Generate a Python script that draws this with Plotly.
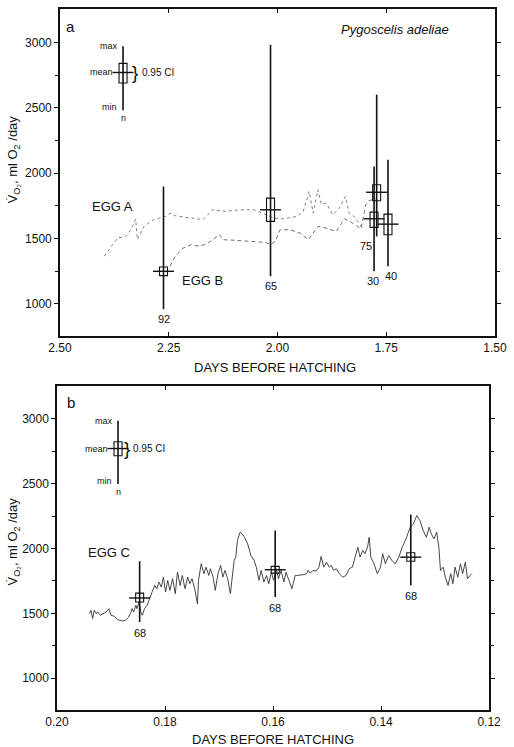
import plotly.graph_objects as go

# ---------------- data: panel a (Eggs A, B) ----------------
eggA_day = [2.398, 2.368, 2.349, 2.337, 2.326, 2.322, 2.307, 2.285, 2.258, 2.247, 2.235,
            2.171, 2.149, 2.118, 2.088, 2.054, 2.035, 2.009, 1.986, 1.956, 1.941, 1.927,
            1.918, 1.907, 1.899, 1.888, 1.873, 1.858, 1.844, 1.835, 1.824, 1.808, 1.805]
eggA_vo2 = [1363, 1502, 1515, 1566, 1647, 1490, 1592, 1643, 1668, 1693, 1673,
            1643, 1719, 1706, 1719, 1719, 1693, 1655, 1650, 1668, 1706, 1859,
            1693, 1872, 1760, 1770, 1681, 1731, 1821, 1693, 1668, 1592, 1579]

eggB_day = [2.247, 2.235, 2.217, 2.198, 2.179, 2.160, 2.133, 2.126, 2.096, 2.065, 2.028,
            2.016, 2.005, 1.994, 1.971, 1.948, 1.929, 1.907, 1.888, 1.865, 1.846, 1.827,
            1.808, 1.797, 1.790, 1.774]
eggB_vo2 = [1286, 1363, 1426, 1452, 1439, 1464, 1528, 1490, 1485, 1477, 1469,
            1452, 1477, 1566, 1566, 1540, 1490, 1592, 1579, 1553, 1650, 1617,
            1574, 1757, 1788, 1803]

# summary statistics, panel a
a_day = [2.262, 2.016, 1.772, 1.778, 1.746]
a_min = [958, 1210, 1515, 1248, 1286]
a_lo = [1215, 1630, 1788, 1584, 1528]
a_mean = [1248, 1719, 1853, 1650, 1609]
a_hi = [1281, 1808, 1910, 1701, 1686]
a_max = [1897, 2981, 2600, 2050, 2101]
a_n = ["92", "65", "75", "30", "40"]

# key (schematic) panel a
key_a = dict(day=2.355, min=2480, lo=2690, mean=2770, hi=2840, max=2970)

# ---------------- data: panel b (Egg C) ----------------
eggC_day = [0.1940, 0.1937, 0.1934, 0.1931, 0.1927, 0.1925, 0.1920, 0.1914, 0.1909, 0.1904,
            0.1900, 0.1894, 0.1888, 0.1879, 0.1873, 0.1868, 0.1864, 0.1861, 0.1858, 0.1854,
            0.1852, 0.1848, 0.1845, 0.1842, 0.1838, 0.1833, 0.1829, 0.1824, 0.1819, 0.1815,
            0.1811, 0.1807, 0.1803, 0.1799, 0.1795, 0.1791, 0.1786, 0.1781, 0.1777, 0.1772,
            0.1768, 0.1763, 0.1758, 0.1754, 0.1750, 0.1745, 0.1740, 0.1738, 0.1733, 0.1728,
            0.1724, 0.1719, 0.1716, 0.1711, 0.1707, 0.1702, 0.1697, 0.1693, 0.1689, 0.1684,
            0.1679, 0.1675, 0.1672, 0.1669, 0.1666, 0.1661, 0.1657, 0.1653, 0.1647, 0.1641,
            0.1635, 0.1631, 0.1626, 0.1622, 0.1617, 0.1612, 0.1608, 0.1603, 0.1599, 0.1594,
            0.1590, 0.1585, 0.1580, 0.1576, 0.1571, 0.1565, 0.1559, 0.1556, 0.1544, 0.1538,
            0.1535, 0.1531, 0.1526, 0.1520, 0.1515, 0.1511, 0.1506, 0.1501, 0.1496, 0.1492,
            0.1488, 0.1483, 0.1477, 0.1471, 0.1465, 0.1459, 0.1453, 0.1448, 0.1443, 0.1439,
            0.1434, 0.1430, 0.1425, 0.1422, 0.1419, 0.1413, 0.1407, 0.1401, 0.1397, 0.1392,
            0.1386, 0.1380, 0.1374, 0.1367, 0.1361, 0.1355, 0.1350, 0.1346, 0.1340, 0.1334,
            0.1328, 0.1322, 0.1316, 0.1311, 0.1307, 0.1302, 0.1297, 0.1293, 0.1290, 0.1285,
            0.1281, 0.1276, 0.1271, 0.1267, 0.1263, 0.1258, 0.1253, 0.1249, 0.1244, 0.1240,
            0.1235, 0.1232]
eggC_vo2 = [1498, 1523, 1459, 1523, 1498, 1510, 1485, 1498, 1510, 1536,
            1485, 1477, 1451, 1441, 1446, 1467, 1498, 1536, 1510, 1562,
            1536, 1587, 1510, 1485, 1536, 1562, 1613, 1664, 1715, 1690,
            1741, 1702, 1779, 1664, 1754, 1677, 1767, 1651, 1818, 1715,
            1792, 1690, 1779, 1728, 1767, 1690, 1574, 1754, 1882, 1805,
            1856, 1792, 1844, 1779, 1677, 1805, 1869, 1779, 1831, 1767,
            1651, 1805, 1908, 1933, 2062, 2126, 2113, 2087, 2036, 1946,
            1908, 1856, 1754, 1831, 1741, 1792, 1728, 1818, 1754, 1844,
            1767, 1831, 1741, 1818, 1754, 1690, 1792, 1792, 1798, 1805,
            1831, 1810, 1831, 1826, 1856, 1938, 1856, 1895, 1856, 1869,
            1831, 1844, 1805, 1779, 1792, 1844, 1856, 1933, 2010, 1933,
            1985, 1959, 2010, 2087, 1933, 1882, 1805, 1856, 1959, 1882,
            1946, 1908, 1882, 1933, 2010, 2062, 2126, 2164, 2190, 2254,
            2215, 2138, 2087, 2164, 2113, 2074, 2126, 2010, 1831, 1856,
            1779, 1715, 1805, 1728, 1856, 1779, 1882, 1805, 1895, 1767,
            1792, 1805]

b_day = [0.1847, 0.1596, 0.1345]
b_min = [1433, 1625, 1715]
b_lo = [1587, 1810, 1902]
b_mean = [1618, 1836, 1933]
b_hi = [1656, 1862, 1967]
b_max = [1902, 2138, 2262]
b_n = ["68", "68", "68"]

key_b = dict(day=0.1887, min=2498, lo=2715, mean=2771, hi=2823, max=2985)

y_ticks = [1000, 1500, 2000, 2500, 3000]
y_ticktext = ["1000", "1500", "2000", "2500", "3000"]
y_minor = [1250, 1750, 2250, 2750]
xa_ticks = [2.50, 2.25, 2.00, 1.75, 1.50]
xa_ticktext = ["2.50", "2.25", "2.00", "1.75", "1.50"]
xb_ticks = [0.20, 0.18, 0.16, 0.14, 0.12]
xb_ticktext = ["0.20", "0.18", "0.16", "0.14", "0.12"]

FONT = "Liberation Sans, Arial, sans-serif"
INK = "#111111"

fig = go.Figure()


def add_whiskers(days, mins, los, means, his, maxs, xr, yr):
    xs, ys = [], []
    for d, lo_, hi_ in zip(days, mins, maxs):
        xs += [d, d, None]
        ys += [lo_, hi_, None]
    fig.add_trace(go.Scatter(x=xs, y=ys, mode="lines", xaxis=xr, yaxis=yr,
                             line=dict(color=INK, width=1.6), showlegend=False,
                             hoverinfo="skip"))
    fig.add_trace(go.Scatter(x=days, y=means, mode="markers", xaxis=xr, yaxis=yr,
                             marker=dict(symbol="line-ew", size=15,
                                         line=dict(color=INK, width=1.4)),
                             showlegend=False, hoverinfo="skip"))
    xref = "x" if xr == "x" else "x2"
    yref = "y" if yr == "y" else "y2"
    for d, lo_, hi_ in zip(days, los, his):
        fig.add_shape(type="rect", xref=xref, yref=yref, xsizemode="pixel",
                      xanchor=d, x0=-4, x1=4, y0=lo_, y1=hi_,
                      line=dict(color=INK, width=1.1), fillcolor="rgba(0,0,0,0)")


# Panel a lines
fig.add_trace(go.Scatter(x=eggA_day, y=eggA_vo2, mode="lines", xaxis="x", yaxis="y",
                         line=dict(color="#808080", width=1, dash="3px,3px"),
                         showlegend=False))
fig.add_trace(go.Scatter(x=eggB_day, y=eggB_vo2, mode="lines", xaxis="x", yaxis="y",
                         line=dict(color="#707070", width=1, dash="4px,3px"),
                         showlegend=False))
add_whiskers(a_day, a_min, a_lo, a_mean, a_hi, a_max, "x", "y")
add_whiskers([key_a["day"]], [key_a["min"]], [key_a["lo"]], [key_a["mean"]],
             [key_a["hi"]], [key_a["max"]], "x", "y")

# Panel b line
fig.add_trace(go.Scatter(x=eggC_day, y=eggC_vo2, mode="lines", xaxis="x2", yaxis="y2",
                         line=dict(color="#333333", width=0.9), showlegend=False))
add_whiskers(b_day, b_min, b_lo, b_mean, b_hi, b_max, "x2", "y2")
add_whiskers([key_b["day"]], [key_b["min"]], [key_b["lo"]], [key_b["mean"]],
             [key_b["hi"]], [key_b["max"]], "x2", "y2")

ann = []
# n labels panel a
a_shift = [0, 0, -11, -1, 3]
for d, m, n, sx in zip(a_day, a_min, a_n, a_shift):
    ann.append(dict(x=d, y=m, xref="x", yref="y", text=n, showarrow=False,
                    xanchor="center", yanchor="top", xshift=sx, yshift=-2,
                    font=dict(size=11, family=FONT, color=INK)))
for d, m, n in zip(b_day, b_min, b_n):
    ann.append(dict(x=d, y=m, xref="x2", yref="y2", text=n, showarrow=False,
                    xanchor="center", yanchor="top", yshift=-3,
                    font=dict(size=11, family=FONT, color=INK)))


def key_labels(k, xr, yr, brk, ci):
    small = dict(size=9, family=FONT, color=INK)
    ann.append(dict(x=k["day"], y=k["max"], xref=xr, yref=yr, text="max", showarrow=False,
                    xanchor="right", yanchor="middle", xshift=-3, font=small))
    ann.append(dict(x=k["day"], y=k["mean"], xref=xr, yref=yr, text="mean", showarrow=False,
                    xanchor="right", yanchor="middle", xshift=-8, font=small))
    ann.append(dict(x=k["day"], y=k["min"], xref=xr, yref=yr, text="min", showarrow=False,
                    xanchor="right", yanchor="middle", xshift=-4, yshift=3, font=small))
    ann.append(dict(x=k["day"], y=k["min"], xref=xr, yref=yr, text="n", showarrow=False,
                    xanchor="center", yanchor="top", yshift=-1, font=small))
    ann.append(dict(x=k["day"], y=k["mean"], xref=xr, yref=yr, text="}", showarrow=False,
                    xanchor="left", yanchor="middle", xshift=brk,
                    font=dict(size=19, family=FONT, color=INK)))
    ann.append(dict(x=k["day"], y=k["mean"], xref=xr, yref=yr, text="0.95 CI",
                    showarrow=False, xanchor="left", yanchor="middle", xshift=ci,
                    font=dict(size=10, family=FONT, color=INK)))


key_labels(key_a, "x", "y", 7, 17)
key_labels(key_b, "x2", "y2", 4, 13)

lab = dict(size=13, family=FONT, color=INK)
C = dict(xanchor="center", yanchor="middle", showarrow=False)
ann += [
    dict(x=0.025, y=0.945, xref="x domain", yref="y domain", text="a",
         font=dict(size=15, family=FONT, color=INK), **C),
    dict(x=0.771, y=0.936, xref="x domain", yref="y domain", text="<i>Pygoscelis adeliae</i>",
         font=dict(size=13, family=FONT, color=INK), **C),
    dict(x=0.121, y=0.396, xref="x domain", yref="y domain", text="EGG A", font=lab, **C),
    dict(x=0.3265, y=0.171, xref="x domain", yref="y domain", text="EGG B", font=lab, **C),
    dict(x=0.032, y=0.948, xref="x2 domain", yref="y2 domain", text="b",
         font=dict(size=15, family=FONT, color=INK), **C),
    dict(x=0.121, y=0.486, xref="x2 domain", yref="y2 domain", text="EGG C", font=lab, **C),
    dict(x=0.4977, y=0.488, xref="paper", yref="paper", text="DAYS BEFORE HATCHING",
         font=lab, **C),
    dict(x=0.494, y=-0.0427, xref="paper", yref="paper", text="DAYS BEFORE HATCHING",
         font=lab, **C),
    dict(x=-0.099, y=0.785, xref="paper", yref="paper", textangle=-90,
         text="V\u0307<sub>O\u2082</sub>, ml O<sub>2</sub> /day", font=lab, **C),
    dict(x=-0.099, y=0.240, xref="paper", yref="paper", textangle=-90,
         text="V\u0307<sub>O\u2082</sub>, ml O<sub>2</sub> /day", font=lab, **C),
]

axis_common = dict(showline=True, linecolor=INK, linewidth=1.5, mirror="ticks",
                   showgrid=False, zeroline=False, ticklen=4, tickcolor=INK, tickwidth=1,
                   tickfont=dict(size=12, family=FONT, color=INK))
y_minor_cfg = dict(tickvals=y_minor, ticks="outside", ticklen=3, tickcolor=INK, showgrid=False)

fig.update_layout(
    width=514, height=747,
    margin=dict(l=57, r=13, t=7, b=37),
    paper_bgcolor="white", plot_bgcolor="white",
    showlegend=False,
    xaxis=dict(domain=[0.00676, 1.0], range=[2.5, 1.5], anchor="y",
               tickvals=xa_ticks, ticktext=xa_ticktext, ticks="inside", **axis_common),
    yaxis=dict(domain=[0.5334, 1.0], range=[752, 3256], anchor="x",
               tickvals=y_ticks, ticktext=y_ticktext, ticks="outside",
               minor=y_minor_cfg, **axis_common),
    xaxis2=dict(domain=[0.0, 0.9865], range=[0.20, 0.12], anchor="y2",
                tickvals=xb_ticks, ticktext=xb_ticktext, ticks="inside", **axis_common),
    yaxis2=dict(domain=[0.0, 0.4623], range=[754, 3254], anchor="x2",
                tickvals=y_ticks, ticktext=y_ticktext, ticks="outside",
                minor=y_minor_cfg, **axis_common),
    annotations=ann,
)

fig.write_html("out.html", config={"displayModeBar": False},
               post_script="document.body.style.margin='0';document.body.style.overflow='hidden';")
